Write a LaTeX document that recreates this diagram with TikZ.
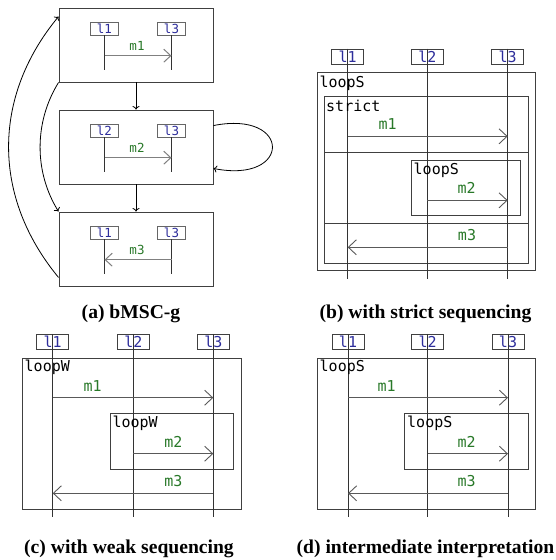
\documentclass[tikz,border=0pt]{standalone}
\usepackage{fontspec}
\usetikzlibrary{arrows.meta}
\newfontfamily\monofont{DejaVu Sans Mono}
\newfontfamily\capfont{Liberation Serif}
\definecolor{headblue}{RGB}{45,45,155}
\definecolor{msggreen}{RGB}{40,120,40}
\begin{document}
\begin{tikzpicture}[x=1pt,y=-1pt,
  abox/.style={draw=black!75,fill=white,line width=0.9pt,minimum width=154pt,minimum height=74pt,inner sep=0pt},
  headA/.style={draw=black!60,fill=white,line width=0.9pt,inner sep=0pt,minimum width=28pt,minimum height=13pt,text=headblue,font=\monofont\fontsize{12.5}{13}\selectfont},
  headB/.style={draw=black!75,line width=0.9pt,inner sep=0pt,minimum width=32pt,minimum height=15pt,text=headblue,font=\monofont\fontsize{15}{16}\selectfont},
  life/.style={draw=black!80,line width=0.8pt},
  msgA/.style={draw=black!50,line width=1pt,-{Straight Barb[length=7pt,width=13pt]}},
  msgB/.style={draw=black!65,line width=0.9pt,-{Straight Barb[length=8pt,width=15pt]}},
  msgtA/.style={text=msggreen,inner sep=0pt,anchor=base,font=\monofont\fontsize{12.5}{13}\selectfont},
  msgtB/.style={text=msggreen,inner sep=0pt,anchor=base,font=\monofont\fontsize{15}{16}\selectfont},
  frag/.style={draw=black!75,line width=0.9pt},
  fragt/.style={text=black,inner sep=0pt,anchor=base west,font=\monofont\fontsize{15}{16}\selectfont},
  conn/.style={draw=black,line width=0.8pt,-{To[length=3.5pt,width=7pt]}},
  captext/.style={inner sep=0pt,anchor=base,font=\capfont\bfseries\fontsize{19.6}{22}\selectfont}
]
\useasboundingbox (0,0) rectangle (556,560);

% ---------------- (a) ----------------
\node[abox] (A1) at (136,45) {};
\node[abox] (A2) at (136,147) {};
\node[abox] (A3) at (136,249) {};
\draw[conn] (A1) -- (A2);
\draw[conn] (A2) -- (A3);
\draw[conn] (A1.south west) .. controls (34,122) and (34,172) .. (A3.north west);
\draw[conn] ([yshift=9pt]A3.south west) .. controls (-8,197) and (-8,97) .. ([yshift=-9pt]A1.north west);
\draw[conn] ([yshift=-16pt]A2.north east) .. controls (292,110) and (292,184) .. ([yshift=16pt]A2.south east);

% box 1
\node[headA] (a1h1) at (104.5,28.5) {l1};
\node[headA] (a1h3) at (171.5,28.5) {l3};
\coordinate (a1e1) at (104.5,69.5);
\coordinate (a1e3) at (171.5,69.5);
\draw[life] (a1h1.south) -- (a1e1);
\draw[life] (a1h3.south) -- (a1e3);
\draw[msgA] (a1h1 |- 0,55.7) -- (a1h3 |- 0,55.7);
\node[msgtA] (a1m) at (137,50.7) {m1};
% box 2
\node[headA] (a2h2) at (104.5,130.5) {l2};
\node[headA] (a2h3) at (171.5,130.5) {l3};
\coordinate (a2e2) at (104.5,171.7);
\coordinate (a2e3) at (171.5,171.7);
\draw[life] (a2h2.south) -- (a2e2);
\draw[life] (a2h3.south) -- (a2e3);
\draw[msgA] (a2h2 |- 0,157.7) -- (a2h3 |- 0,157.7);
\node[msgtA] (a2m) at (137,152.7) {m2};
% box 3
\node[headA] (a3h1) at (104.5,232.5) {l1};
\node[headA] (a3h3) at (171.5,232.5) {l3};
\coordinate (a3e1) at (104.5,273.7);
\coordinate (a3e3) at (171.5,273.7);
\draw[life] (a3h1.south) -- (a3e1);
\draw[life] (a3h3.south) -- (a3e3);
\draw[msgA] (a3h3 |- 0,259.7) -- (a3h1 |- 0,259.7);
\node[msgtA] (a3m) at (137,254.7) {m3};

\node[captext] (capa) at (131,318.5) {(a) bMSC-g};

% ---------------- (b) ----------------
\node[headB] (bh1) at (347.7,56.5) {l1};
\node[headB] (bh2) at (427.3,56.5) {l2};
\node[headB] (bh3) at (507.7,56.5) {l3};
\draw[frag] (317.3,72.7) rectangle (535.3,270.7);
\draw[frag] (324.3,96.7) rectangle (528,263.3);
\draw[frag] (324.3,152.3) -- (528,152.3);
\draw[frag] (324.3,223.3) -- (528,223.3);
\draw[frag] (411.3,160.3) rectangle (520.7,215.7);
\coordinate (be1) at (347.7,279);
\coordinate (be2) at (427.3,279);
\coordinate (be3) at (507.7,279);
\draw[life] (bh1.north) -- (be1);
\draw[life] (bh2.north) -- (be2);
\draw[life] (bh3.north) -- (be3);
\node[fragt] (bt1) at (319.3,87.3) {loopS};
\node[fragt] (bt2) at (326,111) {strict};
\node[fragt] (bt3) at (413.5,174) {loopS};
\draw[msgB] (bh1 |- 0,136.3) -- (bh3 |- 0,136.3);
\draw[msgB] (bh2 |- 0,200.3) -- (bh3 |- 0,200.3);
\draw[msgB] (bh3 |- 0,247.3) -- (bh1 |- 0,247.3);
\node[msgtB] (bm1) at (387.7,129.7) {m1};
\node[msgtB] (bm2) at (466.7,193.3) {m2};
\node[msgtB] (bm3) at (467,240.7) {m3};

\node[captext] (capb) at (425.5,318.5) {(b) with strict sequencing};

% ---------------- (c) ----------------
\node[headB] (ch1) at (52.7,341.8) {l1};
\node[headB] (ch2) at (133.3,341.8) {l2};
\node[headB] (ch3) at (213.3,341.8) {l3};
\draw[frag] (22.3,358.7) rectangle (241,509.3);
\draw[frag] (110.3,413.7) rectangle (233.7,469);
\coordinate (ce1) at (52.7,517.3);
\coordinate (ce2) at (133.3,517.3);
\coordinate (ce3) at (213.3,517.3);
\draw[life] (ch1.north) -- (ce1);
\draw[life] (ch2.north) -- (ce2);
\draw[life] (ch3.north) -- (ce3);
\node[fragt] (ct1) at (24.5,371.7) {loopW};
\node[fragt] (ct2) at (112.3,427.7) {loopW};
\draw[msgB] (ch1 |- 0,397.7) -- (ch3 |- 0,397.7);
\draw[msgB] (ch2 |- 0,453.7) -- (ch3 |- 0,453.7);
\draw[msgB] (ch3 |- 0,493.3) -- (ch1 |- 0,493.3);
\node[msgtB] (cm1) at (92.7,391.7) {m1};
\node[msgtB] (cm2) at (173.3,447.3) {m2};
\node[msgtB] (cm3) at (173.3,486.7) {m3};

\node[captext] (capc) at (129,553) {(c) with weak sequencing};

% ---------------- (d) ----------------
\node[headB] (dh1) at (348,341.8) {l1};
\node[headB] (dh2) at (427.7,341.8) {l2};
\node[headB] (dh3) at (508,341.8) {l3};
\draw[frag] (317,358.7) rectangle (535.3,509.3);
\draw[frag] (404.7,413.7) rectangle (528,469);
\coordinate (de1) at (348,517.3);
\coordinate (de2) at (427.7,517.3);
\coordinate (de3) at (508,517.3);
\draw[life] (dh1.north) -- (de1);
\draw[life] (dh2.north) -- (de2);
\draw[life] (dh3.north) -- (de3);
\node[fragt] (dt1) at (319.5,371.7) {loopS};
\node[fragt] (dt2) at (407,427.7) {loopS};
\draw[msgB] (dh1 |- 0,397.7) -- (dh3 |- 0,397.7);
\draw[msgB] (dh2 |- 0,453.7) -- (dh3 |- 0,453.7);
\draw[msgB] (dh3 |- 0,493.3) -- (dh1 |- 0,493.3);
\node[msgtB] (dm1) at (386.7,391.7) {m1};
\node[msgtB] (dm2) at (466.7,447.3) {m2};
\node[msgtB] (dm3) at (466.7,486.7) {m3};

\node[captext] (capd) at (425.5,553) {(d) intermediate interpretation};
\end{tikzpicture}
\end{document}
